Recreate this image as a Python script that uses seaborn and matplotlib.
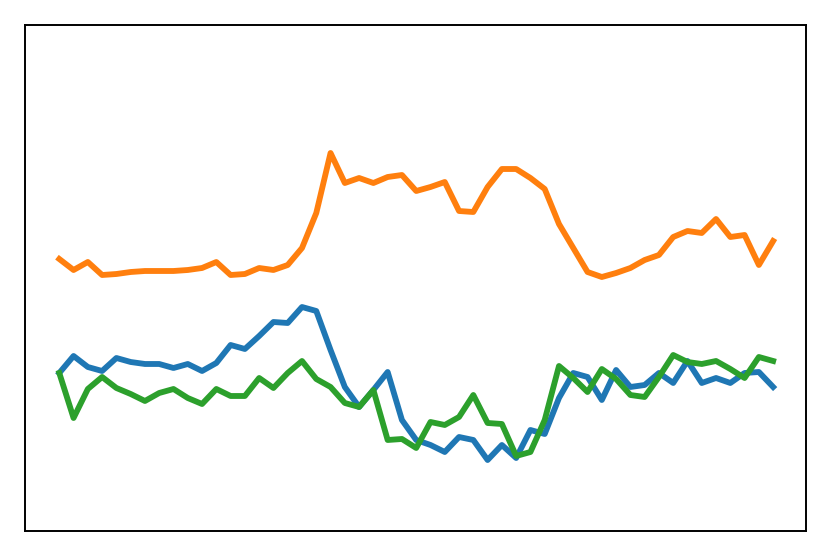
import matplotlib
matplotlib.use("Agg")
import matplotlib.pyplot as plt
import seaborn as sns
import pandas as pd

# valores (51 pontos por série)
serie_azul = [1.58, 1.75, 1.64, 1.60, 1.73, 1.69, 1.67, 1.67, 1.63, 1.67,
              1.60, 1.68, 1.86, 1.82, 1.95, 2.09, 2.08, 2.24, 2.20, 1.81,
              1.44, 1.24, 1.41, 1.59, 1.11, 0.91, 0.86, 0.79, 0.94, 0.91,
              0.71, 0.86, 0.73, 1.01, 0.97, 1.33, 1.58, 1.54, 1.31, 1.61,
              1.44, 1.46, 1.58, 1.48, 1.70, 1.48, 1.53, 1.48, 1.58, 1.59,
              1.44]
serie_laranja = [2.72, 2.61, 2.69, 2.56, 2.57, 2.59, 2.60, 2.60, 2.60, 2.61,
                 2.63, 2.69, 2.56, 2.57, 2.63, 2.61, 2.66, 2.83, 3.18, 3.78,
                 3.48, 3.53, 3.48, 3.54, 3.56, 3.40, 3.44, 3.49, 3.20, 3.19,
                 3.44, 3.62, 3.62, 3.53, 3.42, 3.07, 2.83, 2.59, 2.54, 2.58,
                 2.63, 2.71, 2.76, 2.94, 3.00, 2.98, 3.12, 2.94, 2.96, 2.66,
                 2.90]
serie_verde = [1.58, 1.13, 1.42, 1.54, 1.43, 1.37, 1.30, 1.38, 1.42, 1.33,
               1.27, 1.42, 1.35, 1.35, 1.53, 1.43, 1.58, 1.70, 1.52, 1.44,
               1.28, 1.24, 1.41, 0.91, 0.92, 0.83, 1.09, 1.06, 1.14, 1.36,
               1.08, 1.07, 0.75, 0.79, 1.11, 1.65, 1.53, 1.39, 1.62, 1.52,
               1.36, 1.34, 1.54, 1.76, 1.69, 1.67, 1.70, 1.62, 1.53, 1.74,
               1.70]
passos = list(range(len(serie_azul)))

df = pd.DataFrame({
    'passo': passos * 3,
    'valor': serie_azul + serie_laranja + serie_verde,
    'serie': ['a'] * len(passos) + ['b'] * len(passos) + ['c'] * len(passos),
})

fig = plt.figure(figsize=(8.31, 5.57), dpi=100)
ax = fig.add_axes([0.0301, 0.0467, 0.9398, 0.9084])

sns.lineplot(data=df, x='passo', y='valor', hue='serie',
             palette=['#1f77b4', '#ff7f0e', '#2ca02c'],
             linewidth=4.2, legend=False, ax=ax)

ax.set_xlim(-2.4, 52.3)
ax.set_ylim(0, 5.06)
ax.set_xticks([])
ax.set_yticks([])
ax.set_xlabel('')
ax.set_ylabel('')
for s in ax.spines.values():
    s.set_color('black')
    s.set_linewidth(1.4)

fig.savefig('out.png', dpi=100)
